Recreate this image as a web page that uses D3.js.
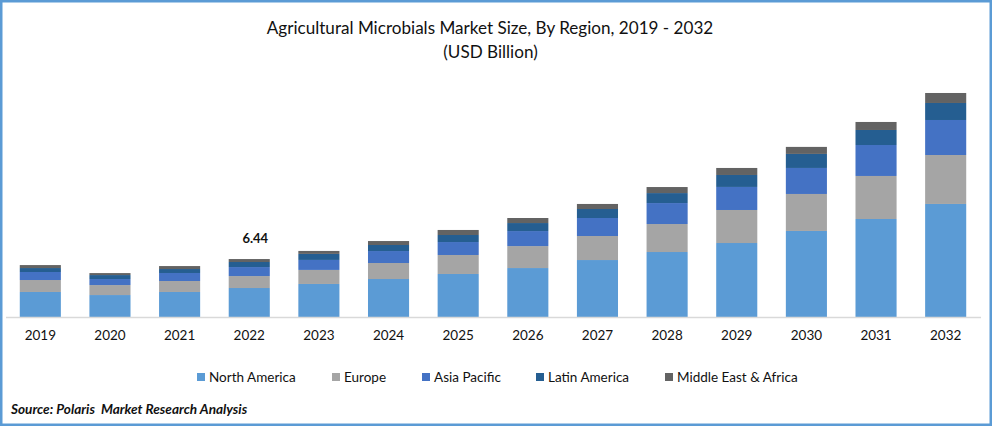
<!DOCTYPE html>
<html>
<head>
<meta charset="utf-8">
<script src="https://cdn.jsdelivr.net/npm/d3@7"></script>
<style>
  html, body { margin: 0; padding: 0; background: #fff; }
  svg { display: block; font-family: Lato, "Open Sans", sans-serif; fill: #111; }
</style>
</head>
<body>
<div id="chart"></div>
<script>
const years = ['2019','2020','2021','2022','2023','2024','2025','2026','2027','2028','2029','2030','2031','2032'];
const regions = ['North America','Europe','Asia Pacific','Latin America','Middle East & Africa'];
const colors = ['#5b9bd5','#a5a5a5','#4472c4','#255e91','#636363'];

// values, USD billion
const northAmerica = [2.78,2.44,2.78,3.22,3.67,4.22,4.78,5.44,6.33,7.22,8.22,9.56,10.89,12.56];
const europe       = [1.33,1.11,1.22,1.33,1.56,1.78,2.11,2.44,2.67,3.11,3.67,4.11,4.78,5.44];
const asiaPacific  = [0.89,0.67,0.89,1.00,1.11,1.33,1.44,1.67,2.00,2.33,2.56,2.89,3.44,3.89];
const latinAmerica = [0.44,0.44,0.44,0.56,0.67,0.67,0.78,0.89,1.00,1.11,1.33,1.56,1.67,1.89];
const middleEast   = [0.33,0.22,0.33,0.33,0.33,0.44,0.56,0.56,0.56,0.67,0.78,0.78,0.89,1.11];
const seriesValues = [northAmerica, europe, asiaPacific, latinAmerica, middleEast];

const annotatedYear = '2022';
const annotatedLabel = '6.44';

const width = 992, height = 426;
const baseline = 317;
const legendSwatchX = [197, 332, 422, 536, 665];

const svg = d3.select('#chart').append('svg')
  .attr('width', width)
  .attr('height', height);

svg.append('rect')
  .attr('x', 1.25).attr('y', 1.25)
  .attr('width', width - 2.5).attr('height', height - 2.5)
  .attr('fill', '#fff')
  .attr('stroke', '#5b9bd5')
  .attr('stroke-width', 2.5);

svg.append('text')
  .attr('x', 490).attr('y', 34)
  .attr('text-anchor', 'middle')
  .style('font-size', '17.1px')
  .text('Agricultural Microbials Market Size, By Region, 2019 - 2032');
svg.append('text')
  .attr('x', 490.5).attr('y', 58)
  .attr('text-anchor', 'middle')
  .style('font-size', '17.1px')
  .text('(USD Billion)');

const x = d3.scaleBand()
  .domain(years)
  .range([5.5, 980.5])
  .paddingInner(0.41)
  .paddingOuter(0.205);

const y = d3.scaleLinear()
  .domain([0, 25])
  .range([baseline, baseline - 225]);

const rows = years.map((year, i) => {
  const row = { year };
  regions.forEach((r, k) => { row[r] = seriesValues[k][i]; });
  return row;
});

const stacked = d3.stack().keys(regions)(rows);

svg.selectAll('.series')
  .data(stacked)
  .join('g')
  .attr('class', 'series')
  .attr('fill', (d, i) => colors[i])
  .selectAll('rect')
  .data(d => d)
  .join('rect')
  .attr('x', d => x(d.data.year))
  .attr('y', d => y(d[1]))
  .attr('width', x.bandwidth())
  .attr('height', d => y(d[0]) - y(d[1]));

const xAxis = svg.append('g')
  .attr('transform', `translate(0,${baseline})`)
  .call(d3.axisBottom(x).tickSize(0).tickPadding(13));
xAxis.select('.domain').attr('stroke', '#d9d9d9').attr('stroke-width', 1.5);
xAxis.selectAll('text')
  .attr('fill', '#111')
  .style('font-family', 'Lato, "Open Sans", sans-serif')
  .style('font-size', '13.5px');

const total2022 = d3.sum(seriesValues, s => s[years.indexOf(annotatedYear)]);
svg.append('text')
  .attr('x', x(annotatedYear) + x.bandwidth() / 2 + 6)
  .attr('y', y(total2022) - 16)
  .attr('text-anchor', 'middle')
  .style('font-size', '13px')
  .style('font-weight', '700')
  .text(annotatedLabel);

const legend = svg.selectAll('.legend-item')
  .data(regions)
  .join('g')
  .attr('class', 'legend-item')
  .attr('transform', (d, i) => `translate(${legendSwatchX[i]},373)`);
legend.append('rect')
  .attr('width', 8).attr('height', 8)
  .attr('fill', (d, i) => colors[i]);
legend.append('text')
  .attr('x', 12).attr('y', 8.5)
  .style('font-size', '13.5px')
  .text(d => d);

svg.append('text')
  .attr('x', 11).attr('y', 414)
  .style('font-size', '13.6px')
  .style('font-weight', '700')
  .style('font-style', 'italic')
  .style('white-space', 'pre')
  .text('Source: Polaris  Market Research Analysis');
</script>
</body>
</html>
